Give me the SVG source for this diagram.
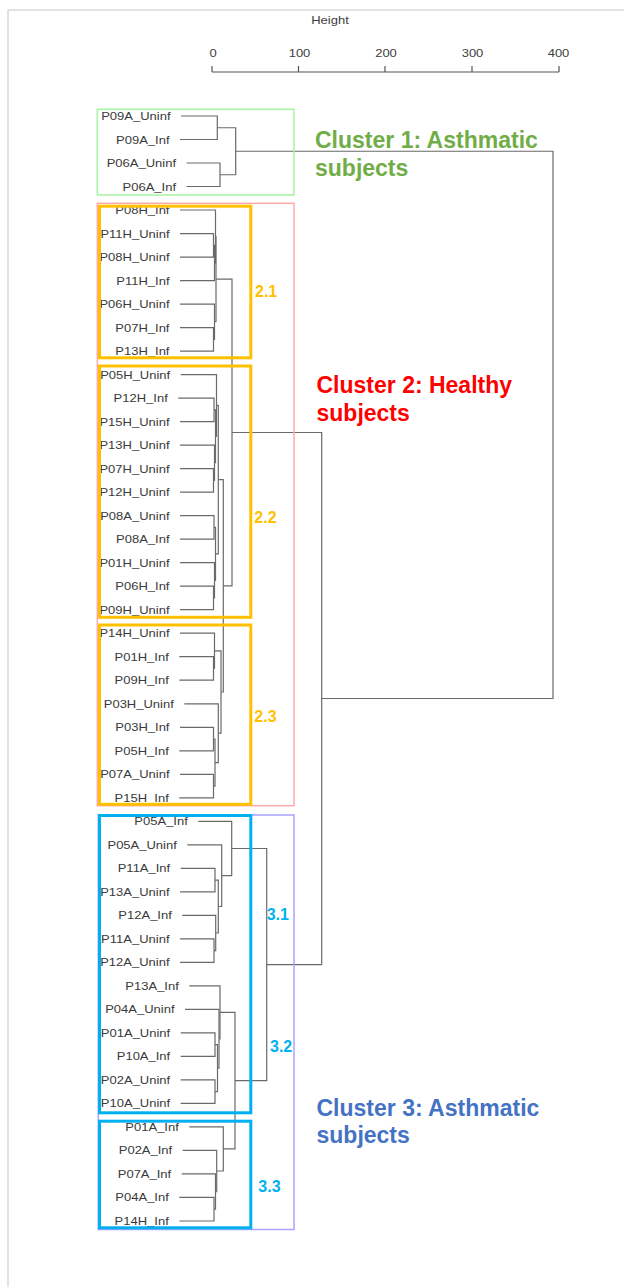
<svg xmlns="http://www.w3.org/2000/svg" width="624" height="1287" viewBox="0 0 624 1287">
  <style>
    .frame { stroke: #d9d9d9; stroke-width: 1.5; fill: none; }
    .axis { stroke: #555; stroke-width: 1.2; fill: none; }
    .axt { font-family: "Liberation Sans", Arial, sans-serif; font-size: 11.5px; fill: #404040; text-anchor: middle; }
    .br { stroke: #6a6a6a; stroke-width: 1.2; fill: none; }
    .lab { font-family: "Liberation Sans", Arial, sans-serif; font-size: 11.5px; fill: #3a3a3a; text-anchor: end; }
    .cl1 { stroke: #a6f5a0; stroke-width: 1.5; fill: none; }
    .cl2 { stroke: #ffaaaa; stroke-width: 1.5; fill: none; }
    .cl3 { stroke: #a7a3ff; stroke-width: 1.5; fill: none; }
    .sub2 { stroke: #ffc000; stroke-width: 3; fill: none; }
    .sub3 { stroke: #00b0f0; stroke-width: 3; fill: none; }
    .title { font-family: "Liberation Sans", Arial, sans-serif; font-size: 23px; font-weight: bold; }
    .num { font-family: "Liberation Sans", Arial, sans-serif; font-size: 16px; font-weight: bold; }
  </style>

  <!-- page frame -->
  <path class="frame" d="M8 1287 V10 H624"/>

  <!-- height axis -->
  <g id="axis">
    <text class="axt" transform="translate(330 23.5) scale(1.13 1)">Height</text>
    <path class="axis" d="M212 72 H559 M212 66 V72 M298.5 66 V72 M385 66 V72 M472 66 V72 M559 66 V72"/>
    <text class="axt" transform="translate(213 56.5) scale(1.13 1)">0</text>
    <text class="axt" transform="translate(299.5 56.5) scale(1.13 1)">100</text>
    <text class="axt" transform="translate(386 56.5) scale(1.13 1)">200</text>
    <text class="axt" transform="translate(472.5 56.5) scale(1.13 1)">300</text>
    <text class="axt" transform="translate(558.5 56.5) scale(1.13 1)">400</text>
  </g>

  <!-- dendrogram branches -->
  <g id="connectors" class="br">
    <!-- cluster 1 -->
    <path d="M181 116 H217.3 V139.5 H180"/>
    <path d="M186.5 163 H220 V186.5 H186.5"/>
    <path d="M217.3 127.75 H235.7 V174.75 H220"/>
    <!-- root -->
    <path d="M235.7 151.25 H553 V698.5 H321.7"/>
    <!-- cluster 2.1 -->
    <path d="M180 233.6 H213.5 V257.1 H180"/>
    <path d="M213.5 245.35 H214.5 V280.6 H180"/>
    <path d="M180 210 H215.5 V262.98 H214.5"/>
    <path d="M180 327.6 H213.5 V351.1 H180"/>
    <path d="M180 304.1 H214.5 V339.35 H213.5"/>
    <path d="M215.5 236.5 H216 V321.7 H214.5"/>
    <!-- cluster 2.2 -->
    <path d="M178.3 398.1 H214 V421.6 H180"/>
    <path d="M180 468.6 H213.5 V492.2 H180"/>
    <path d="M180 445.1 H214.5 V480.4 H213.5"/>
    <path d="M214 409.85 H215.5 V462.75 H214.5"/>
    <path d="M180.7 374.6 H216.5 V436.3 H215.5"/>
    <path d="M180 515.7 H214 V539.2 H180"/>
    <path d="M180 586.2 H213.5 V609.7 H180"/>
    <path d="M180 562.7 H214.5 V597.95 H213.5"/>
    <path d="M214 527.45 H215.5 V580.3 H214.5"/>
    <path d="M216.5 405.45 H218.3 V553.9 H215.5"/>
    <!-- cluster 2.3 -->
    <path d="M179.3 656.7 H213.5 V680.2 H179.3"/>
    <path d="M180 633.2 H214.5 V668.45 H213.5"/>
    <path d="M180 727.3 H213.5 V750.8 H179.3"/>
    <path d="M180 774.3 H213.5 V797.8 H179.3"/>
    <path d="M213.5 739.05 H215 V786.05 H213.5"/>
    <path d="M184.3 703.8 H218.3 V762.55 H215"/>
    <path d="M214.5 650.8 H221 V733.2 H218.3"/>
    <!-- cluster 2 joins -->
    <path d="M218.3 479.7 H223.3 V692 H221"/>
    <path d="M216 279.1 H232 V585.85 H223.3"/>
    <path d="M232 432.5 H321.7 V964.55 H266.7"/>
    <!-- cluster 3.1 -->
    <path d="M180.7 868.3 H215 V891.8 H180"/>
    <path d="M180 938.9 H214 V962.4 H180"/>
    <path d="M182.3 915.3 H215.7 V950.65 H214"/>
    <path d="M215 880.05 H218.3 V932.98 H215.7"/>
    <path d="M187.3 844.8 H221.7 V906.5 H218.3"/>
    <path d="M198.3 821.3 H231.7 V875.65 H221.7"/>
    <!-- cluster 3.2 -->
    <path d="M180.7 1032.9 H215 V1056.4 H180.7"/>
    <path d="M180.7 1079.9 H215 V1103.4 H180.7"/>
    <path d="M215 1044.65 H217.5 V1091.65 H215"/>
    <path d="M185 1009.4 H219 V1068.15 H217.5"/>
    <path d="M189.3 985.9 H220 V1038.8 H219"/>
    <!-- cluster 3.3 -->
    <path d="M179.3 1197.4 H214 V1221 H179.3"/>
    <path d="M181.7 1173.9 H215.5 V1209.2 H214"/>
    <path d="M182.7 1150.4 H216.7 V1191.55 H215.5"/>
    <path d="M189.3 1126.9 H223.3 V1170.98 H216.7"/>
    <!-- cluster 3 joins -->
    <path d="M220 1012.35 H235 V1148.9 H223.3"/>
    <path d="M231.7 848.5 H266.7 V1080.6 H235"/>
  </g>

  <!-- sample labels -->
  <g id="leaves" class="lab">
    <text transform="translate(170.5 120) scale(1.13 1)">P09A_Uninf</text>
    <text transform="translate(169.5 143.5) scale(1.13 1)">P09A_Inf</text>
    <text transform="translate(176 167) scale(1.13 1)">P06A_Uninf</text>
    <text transform="translate(176 190.5) scale(1.13 1)">P06A_Inf</text>
    <text transform="translate(169.5 214) scale(1.13 1)">P08H_Inf</text>
    <text transform="translate(169.5 237.6) scale(1.13 1)">P11H_Uninf</text>
    <text transform="translate(169.5 261.1) scale(1.13 1)">P08H_Uninf</text>
    <text transform="translate(169.5 284.6) scale(1.13 1)">P11H_Inf</text>
    <text transform="translate(169.5 308.1) scale(1.13 1)">P06H_Uninf</text>
    <text transform="translate(169.5 331.6) scale(1.13 1)">P07H_Inf</text>
    <text transform="translate(169.5 355.1) scale(1.13 1)">P13H_Inf</text>
    <text transform="translate(170.2 378.6) scale(1.13 1)">P05H_Uninf</text>
    <text transform="translate(167.8 402.1) scale(1.13 1)">P12H_Inf</text>
    <text transform="translate(169.5 425.6) scale(1.13 1)">P15H_Uninf</text>
    <text transform="translate(169.5 449.1) scale(1.13 1)">P13H_Uninf</text>
    <text transform="translate(169.5 472.6) scale(1.13 1)">P07H_Uninf</text>
    <text transform="translate(169.5 496.2) scale(1.13 1)">P12H_Uninf</text>
    <text transform="translate(169.5 519.7) scale(1.13 1)">P08A_Uninf</text>
    <text transform="translate(169.5 543.2) scale(1.13 1)">P08A_Inf</text>
    <text transform="translate(169.5 566.7) scale(1.13 1)">P01H_Uninf</text>
    <text transform="translate(169.5 590.2) scale(1.13 1)">P06H_Inf</text>
    <text transform="translate(169.5 613.7) scale(1.13 1)">P09H_Uninf</text>
    <text transform="translate(169.5 637.2) scale(1.13 1)">P14H_Uninf</text>
    <text transform="translate(168.8 660.7) scale(1.13 1)">P01H_Inf</text>
    <text transform="translate(168.8 684.2) scale(1.13 1)">P09H_Inf</text>
    <text transform="translate(173.8 707.8) scale(1.13 1)">P03H_Uninf</text>
    <text transform="translate(169.5 731.3) scale(1.13 1)">P03H_Inf</text>
    <text transform="translate(168.8 754.8) scale(1.13 1)">P05H_Inf</text>
    <text transform="translate(169.5 778.3) scale(1.13 1)">P07A_Uninf</text>
    <text transform="translate(168.8 801.8) scale(1.13 1)">P15H_Inf</text>
    <text transform="translate(187.8 825.3) scale(1.13 1)">P05A_Inf</text>
    <text transform="translate(176.8 848.8) scale(1.13 1)">P05A_Uninf</text>
    <text transform="translate(170.2 872.3) scale(1.13 1)">P11A_Inf</text>
    <text transform="translate(169.5 895.8) scale(1.13 1)">P13A_Uninf</text>
    <text transform="translate(171.8 919.3) scale(1.13 1)">P12A_Inf</text>
    <text transform="translate(169.5 942.9) scale(1.13 1)">P11A_Uninf</text>
    <text transform="translate(169.5 966.4) scale(1.13 1)">P12A_Uninf</text>
    <text transform="translate(178.8 989.9) scale(1.13 1)">P13A_Inf</text>
    <text transform="translate(174.5 1013.4) scale(1.13 1)">P04A_Uninf</text>
    <text transform="translate(170.2 1036.9) scale(1.13 1)">P01A_Uninf</text>
    <text transform="translate(170.2 1060.4) scale(1.13 1)">P10A_Inf</text>
    <text transform="translate(170.2 1083.9) scale(1.13 1)">P02A_Uninf</text>
    <text transform="translate(170.2 1107.4) scale(1.13 1)">P10A_Uninf</text>
    <text transform="translate(178.8 1130.9) scale(1.13 1)">P01A_Inf</text>
    <text transform="translate(172.2 1154.4) scale(1.13 1)">P02A_Inf</text>
    <text transform="translate(171.2 1177.9) scale(1.13 1)">P07A_Inf</text>
    <text transform="translate(168.8 1201.4) scale(1.13 1)">P04A_Inf</text>
    <text transform="translate(168.8 1225) scale(1.13 1)">P14H_Inf</text>
  </g>

  <!-- cluster 1 -->
  <g id="cluster1">
    <rect class="cl1" x="97.3" y="109.3" width="196.7" height="85.7"/>
    <text class="title" fill="#70ad47" x="315" y="148">Cluster 1: Asthmatic</text>
    <text class="title" fill="#70ad47" x="315" y="175.5">subjects</text>
  </g>

  <!-- cluster 2 with sub-clusters -->
  <g id="cluster2">
    <rect class="cl2" x="97.3" y="203.3" width="196.7" height="602.4"/>
    <text class="title" fill="#ff0000" x="316.5" y="393.3">Cluster 2: Healthy</text>
    <text class="title" fill="#ff0000" x="316.5" y="420.8">subjects</text>
  </g>
  <g id="cluster2-1">
    <rect class="sub2" x="99.5" y="206.2" width="151.3" height="151.6"/>
    <text class="num" fill="#ffc000" x="255" y="297.4">2.1</text>
  </g>
  <g id="cluster2-2">
    <rect class="sub2" x="99.5" y="366" width="151.3" height="251.3"/>
    <text class="num" fill="#ffc000" x="254.3" y="523.3">2.2</text>
  </g>
  <g id="cluster2-3">
    <rect class="sub2" x="99.5" y="625" width="151.3" height="179.3"/>
    <text class="num" fill="#ffc000" x="254.3" y="721.7">2.3</text>
  </g>

  <!-- cluster 3 with sub-clusters -->
  <g id="cluster3">
    <rect class="cl3" x="98.3" y="815" width="195.7" height="414.5"/>
    <text class="title" fill="#4472c4" x="316.5" y="1115.7">Cluster 3: Asthmatic</text>
    <text class="title" fill="#4472c4" x="316.5" y="1143.2">subjects</text>
  </g>
  <g id="cluster3-1-2">
    <rect class="sub3" x="99.5" y="815.5" width="151.3" height="297.3"/>
    <text class="num" fill="#00b0f0" x="266.7" y="920.3">3.1</text>
    <text class="num" fill="#00b0f0" x="270" y="1051.7">3.2</text>
  </g>
  <g id="cluster3-3">
    <rect class="sub3" x="99.5" y="1121.2" width="151.3" height="106.6"/>
    <text class="num" fill="#00b0f0" x="258.3" y="1192">3.3</text>
  </g>
</svg>
